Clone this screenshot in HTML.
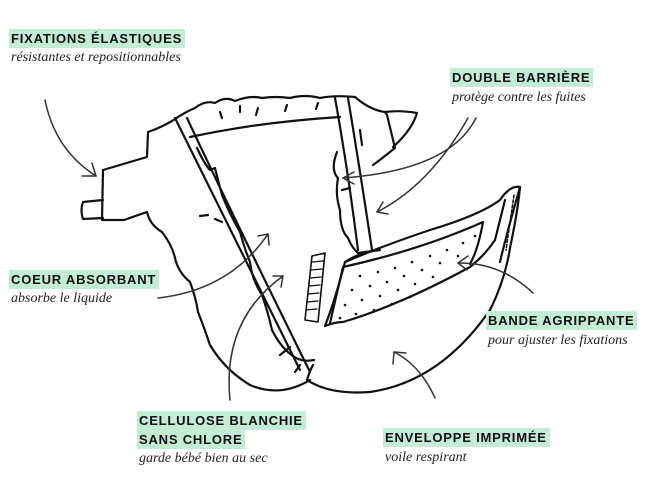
<!DOCTYPE html>
<html><head><meta charset="utf-8"><style>
html,body{margin:0;padding:0;background:#fff;}
body{width:648px;height:499px;position:relative;overflow:hidden;}
.t{position:absolute;font-family:"Liberation Sans",sans-serif;font-weight:bold;font-size:13px;letter-spacing:0.8px;color:#111;background:#c4ebd6;padding:1px 3px 1px 2px;line-height:17px;white-space:nowrap;}
.s{position:absolute;font-family:"Liberation Serif",serif;font-style:italic;font-size:14px;color:#222;white-space:nowrap;}
svg{position:absolute;left:0;top:0;}
</style></head><body>
<svg width="648" height="499" viewBox="0 0 648 499" fill="none" stroke="#111" stroke-width="2.2" stroke-linejoin="round" stroke-linecap="round">
<path d="M103,200 L83,202 Q80,210 83,219 L103,218"/>
<path d="M103,170 L102,220 L124,220 L147,212"/>
<path d="M103,170 L147,157 L148,132 Q160,128 172,121"/>
<path d="M147,212 Q150,225 162,232 Q172,245 175,258 Q178,272 190,282 Q196,298 198,312 Q205,330 210,345 Q225,370 250,385 Q280,398 310,380"/>
<path d="M172,121 Q185,112 195,108 Q205,100 215,103 Q225,96 235,101 Q250,95 262,98 Q275,96 290,98 Q305,94 320,98 Q335,95 355,97"/>
<path d="M190,137 Q260,122 340,117"/>
<path d="M220,112 L222,118 M240,106 L240,112 M258,108 L256,115 M287,105 L285,111 M318,103 L316,109"/>
<path d="M175,118 L300,370"/>
<path d="M187,118 Q230,210 310,372"/>
<path d="M197,148 Q205,165 210,170 L215,168 Q218,180 222,195 Q230,215 240,232 Q245,250 250,262 Q252,280 262,295 Q268,312 272,330 Q282,350 296,358 Q304,362 314,360"/>
<path d="M200,216 L208,215 M215,219 L222,222 M280,355 L290,347 M295,372 L300,365"/>
<path d="M335,98 Q348,170 358,250"/>
<path d="M348,98 Q360,170 372,250"/>
<path d="M337,152 Q330,170 338,178 Q335,195 340,210 Q340,230 348,238 Q352,248 358,253"/>
<path d="M360,130 L362,145 M342,190 L350,188"/>
<path d="M355,97 Q370,110 385,112 L387,115 L395,148 Q380,160 373,165"/>
<path d="M385,112 Q400,110 417,113 Q412,130 393,147"/>
<path d="M358,253 L380,250 Q360,252 345,262"/>
<path d="M307,380 Q330,395 370,392 Q440,382 490,310 Q505,280 510,248 Q518,210 520,187 Q510,185 500,200 Q480,215 430,230 Q385,245 345,262 Q335,300 325,326"/>
<path d="M520,187 Q505,240 500,262"/>
<path d="M325,326 Q335,322 343,322 Q400,305 470,267 Q485,255 495,240 L505,200"/>
<path d="M343,267 L330,323 M343,267 Q420,250 483,222 Q478,250 470,264"/>
<path d="M312,256 L325,253 L318,322 L305,320 Z" stroke-width="1.6"/>
<path d="M312,262 L323,261 M311,270 L322,269 M310,278 L321,277 M309,286 L320,285 M308,294 L319,293 M307,302 L318,301 M306,310 L317,309" stroke-width="1.3"/>
<path d="M514,195 L506,250" stroke-width="1.5" stroke-dasharray="3 2"/>
<path d="M307,380 Q310,370 313,365"/>
<g fill="#111" stroke="none">
<circle cx="360" cy="276" r="1.3"/><circle cx="378" cy="272" r="1.3"/><circle cx="395" cy="268" r="1.3"/><circle cx="412" cy="262" r="1.3"/><circle cx="430" cy="256" r="1.3"/><circle cx="447" cy="250" r="1.3"/><circle cx="463" cy="243" r="1.3"/><circle cx="475" cy="236" r="1.3"/>
<circle cx="352" cy="290" r="1.3"/><circle cx="370" cy="286" r="1.3"/><circle cx="387" cy="282" r="1.3"/><circle cx="404" cy="276" r="1.3"/><circle cx="422" cy="270" r="1.3"/><circle cx="440" cy="263" r="1.3"/><circle cx="458" cy="256" r="1.3"/>
<circle cx="345" cy="305" r="1.3"/><circle cx="362" cy="300" r="1.3"/><circle cx="380" cy="296" r="1.3"/><circle cx="398" cy="290" r="1.3"/><circle cx="415" cy="284" r="1.3"/><circle cx="433" cy="277" r="1.3"/>
<circle cx="340" cy="318" r="1.3"/><circle cx="356" cy="314" r="1.3"/><circle cx="374" cy="310" r="1.3"/><circle cx="392" cy="304" r="1.3"/><circle cx="410" cy="297" r="1.3"/>
</g>
<g stroke="#333" stroke-width="1.5">
<path d="M45,100 Q55,150 96,176"/><path d="M82,176 L96,176 L92,163"/>
<path d="M476,118 Q450,170 343,178"/><path d="M354,172 L343,178 L354,184"/>
<path d="M468,118 Q430,185 377,212"/><path d="M383,202 L377,212 L388,214"/>
<path d="M158,298 Q230,290 268,234"/><path d="M258,236 L268,234 L269,245"/>
<path d="M230,400 Q222,320 283,276"/><path d="M273,276 L283,276 L281,287"/>
<path d="M533,293 Q500,262 458,263"/><path d="M468,256 L458,263 L467,270"/>
<path d="M435,398 Q420,365 394,352"/><path d="M393,364 L394,352 L406,353"/>
</g>
</svg>
<div class="t" style="left:9px;top:29px;">FIXATIONS ÉLASTIQUES</div>
<div class="s" style="left:11px;top:50px;">résistantes et repositionnables</div>
<div class="t" style="left:450px;top:68px;">DOUBLE BARRIÈRE</div>
<div class="s" style="left:452px;top:90px;">protège contre les fuites</div>
<div class="t" style="left:9px;top:270px;">COEUR ABSORBANT</div>
<div class="s" style="left:11px;top:291px;">absorbe le liquide</div>
<div class="t" style="left:486px;top:311px;">BANDE AGRIPPANTE</div>
<div class="s" style="left:488px;top:333px;">pour ajuster les fixations</div>
<div class="t" style="left:137px;top:411px;">CELLULOSE BLANCHIE</div>
<div class="t" style="left:137px;top:430px;">SANS CHLORE</div>
<div class="s" style="left:139px;top:451px;">garde bébé bien au sec</div>
<div class="t" style="left:383px;top:428px;">ENVELOPPE IMPRIMÉE</div>
<div class="s" style="left:385px;top:450px;">voile respirant</div>
</body></html>
